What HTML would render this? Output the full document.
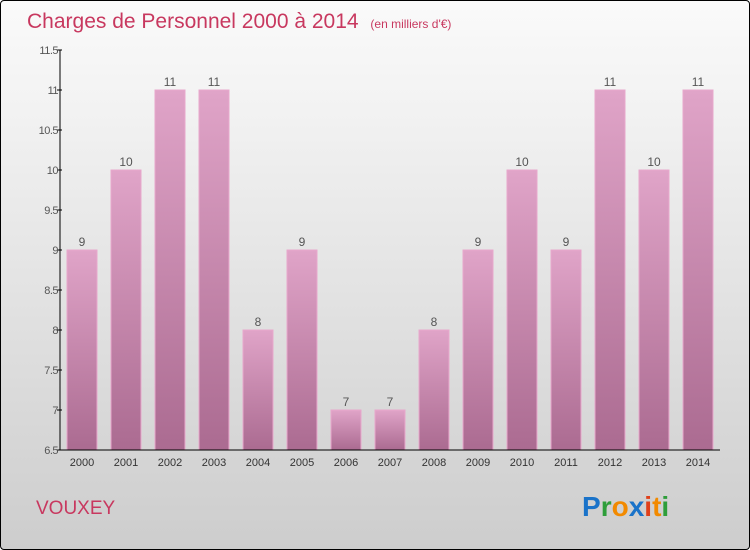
<!DOCTYPE html>
<html><head><meta charset="utf-8">
<style>
body{margin:0;width:750px;height:550px;overflow:hidden;font-family:"Liberation Sans",sans-serif;}
#wrap{position:absolute;left:0;top:0;width:748px;height:548px;border:1px solid #000;border-radius:4px;background:linear-gradient(#fafafa,#f2f2f2 20%,#cdcdcd);}
</style></head><body>
<div id="wrap">
<svg width="750" height="550" style="position:absolute;left:-1px;top:-1px">
<defs><linearGradient id="bg" x1="0" y1="0" x2="0" y2="1"><stop offset="0" stop-color="#e0a4c8"/><stop offset="1" stop-color="#ab6b91"/></linearGradient></defs>
<text x="27" y="28" font-size="21" fill="#c8385f">Charges de Personnel 2000 à 2014 <tspan font-size="12" dx="6">(en milliers d'€)</tspan></text>
<g id="bars"></g>
<g id="axes"></g>
<text x="36" y="514" font-size="19" fill="#c8385f">VOUXEY</text>
<g font-size="28" font-weight="bold" font-family="'Liberation Sans',sans-serif">
<text x="582" y="516"><tspan fill="#1a73c9">P</tspan><tspan fill="#2e9e3a">r</tspan><tspan fill="#f28a00">o</tspan><tspan fill="#1a73c9">x</tspan><tspan fill="#e0401a">i</tspan><tspan fill="#f28a00">t</tspan><tspan fill="#2e9e3a">i</tspan></text></g>
</svg></div>
<script>
const years=["2000","2001","2002","2003","2004","2005","2006","2007","2008","2009","2010","2011","2012","2013","2014"];
const values=[9,10,11,11,8,9,7,7,8,9,10,9,11,10,11];
const yTicks=[6.5,7,7.5,8,8.5,9,9.5,10,10.5,11,11.5];
const NS="http://www.w3.org/2000/svg";
const y=v=>450-(v-6.5)*80;
const x=i=>82+i*44;
function mk(t,a,p){const e=document.createElementNS(NS,t);for(const k in a)e.setAttribute(k,a[k]);p.appendChild(e);return e;}
const bars=document.getElementById('bars'),axes=document.getElementById('axes');
values.forEach((v,i)=>{
 const r=mk('rect',{x:x(i)-15,y:y(v),width:30,height:450-y(v),fill:'url(#bg)',stroke:'#e8a8cc','stroke-width':1},bars);
 
 
 const t=mk('text',{x:x(i),y:y(v)-4,'text-anchor':'middle','font-size':12,fill:'#555'},bars);t.textContent=v;
 
 
 const l=mk('text',{x:x(i),y:466,'text-anchor':'middle','font-size':11,fill:'#333'},axes);l.textContent=years[i];
 
 
});
mk('line',{x1:60,y1:50,x2:60,y2:450,stroke:'#000'},axes);
mk('line',{x1:60,y1:450,x2:720,y2:450,stroke:'#000'},axes);
yTicks.forEach(v=>{
 mk('line',{x1:57,y1:y(v),x2:62,y2:y(v),stroke:'#000'},axes);
 const t=mk('text',{x:58,y:y(v)+4,'text-anchor':'end','font-size':11,fill:'#555','letter-spacing':'-0.5'},axes);t.textContent=v;
 
 
});
</script>
</body></html>
